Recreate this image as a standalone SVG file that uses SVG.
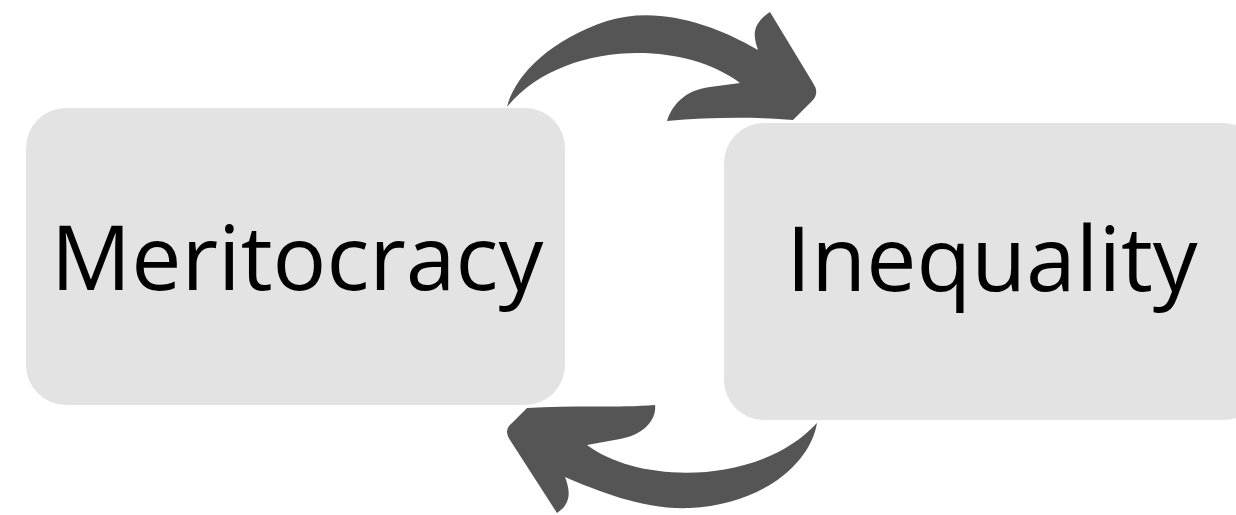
<svg xmlns="http://www.w3.org/2000/svg" width="1236" height="515" viewBox="0 0 1236 515">
<style>
.box{fill:#e3e3e3}
.lbl{font-family:"Open Sans","Noto Sans",sans-serif;font-size:89.5px;fill:#000;text-anchor:middle}
.arr{fill:#555555}
</style>
<rect x="0" y="0" width="1236" height="515" fill="#ffffff"/>
<g id="node-meritocracy">
<rect class="box" x="26" y="108" width="539" height="297" rx="40" ry="40"/>
<text class="lbl" x="297" y="290">Meritocracy</text>
</g>
<g id="node-inequality">
<rect class="box" x="724" y="123" width="539" height="297" rx="40" ry="40"/>
<text class="lbl" x="992" y="291">Inequality</text>
</g>
<g id="connectors">
<path class="arr" d="M507,107 C515,75 550,40 607,21 C655,6 710,22 758,50 C754,38 750,25 770,12 L813,83 Q820,93 812,101 L793,120 C760,117 710,117 667,121 C672,105 685,90 710,87 L740,83 C680,38 560,42 507,107 Z"/>
<path class="arr" d="M817,423 C810,465 760,505 690,508 C645,510 600,492 565,477 C570,490 572,503 557,513 L510,440 Q503,430 512,423 L527,408 C570,405 620,408 655,405 C657,418 645,435 620,439 L587,445 C640,485 760,485 817,423 Z"/>
</g>
</svg>
